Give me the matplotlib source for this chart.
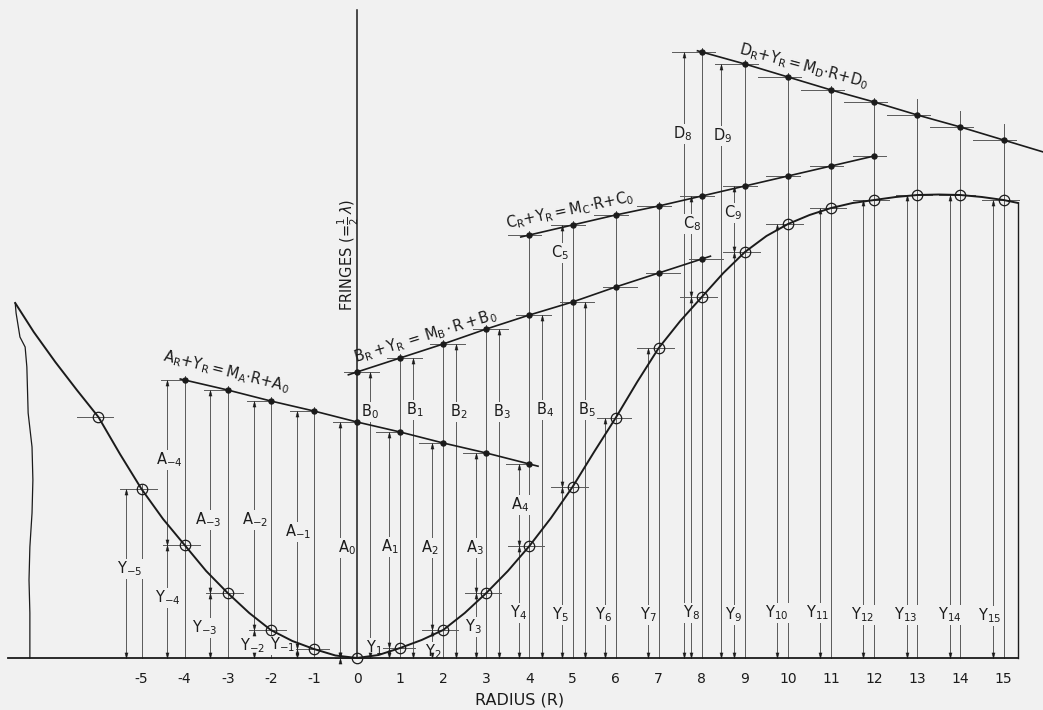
import numpy as np
import matplotlib
matplotlib.use("Agg")
import matplotlib.pyplot as plt
from matplotlib.markers import MarkerStyle
from matplotlib.path import Path

# ---------------- data ----------------
R_points = list(range(-6, 16))
Y_points = [24.1, 16.9, 11.3, 6.5, 2.8, 0.9, 0.0, 1.0, 2.8, 6.5, 11.2,
            17.1, 24.0, 31.0, 36.1, 40.6, 43.4, 45.0, 45.8, 46.3, 46.3, 45.8]

R_curve = [-7.93, -7.5, -7.0, -6.5, -6.0, -5.5, -5.0, -4.5, -4.0, -3.5, -3.0, -2.5,
           -2.0, -1.5, -1.0, -0.5, 0.0, 0.5, 1.0, 1.5, 2.0, 2.5, 3.0, 3.5,
           4.0, 4.5, 5.0, 5.5, 6.0, 6.5, 7.0, 7.5, 8.0, 8.5, 9.0, 9.5,
           10.0, 10.5, 11.0, 11.5, 12.0, 12.5, 13.0, 13.5, 14.0, 14.5, 15.0, 15.34]
Y_curve = [35.5, 32.6, 29.6, 26.8, 24.1, 20.4, 16.9, 13.9, 11.3, 8.7, 6.5, 4.5,
           2.8, 1.7, 0.9, 0.25, 0.0, 0.3, 1.0, 1.8, 2.8, 4.5, 6.5, 8.7,
           11.2, 14.0, 17.1, 20.6, 24.0, 27.6, 31.0, 33.7, 36.1, 38.5, 40.6, 42.2,
           43.4, 44.3, 45.0, 45.5, 45.8, 46.1, 46.3, 46.35, 46.3, 46.1, 45.8, 45.5]

A_R = [-4, -3, -2, -1, 0, 1, 2, 3, 4]
A_vals = [27.8, 26.8, 25.7, 24.7, 23.6, 22.6, 21.5, 20.5, 19.4]
B_R = [0, 1, 2, 3, 4, 5, 6, 7, 8]
B_vals = [28.6, 30.0, 31.4, 32.9, 34.3, 35.6, 37.1, 38.5, 39.9]
C_R = [4, 5, 6, 7, 8, 9, 10, 11, 12]
C_vals = [42.3, 43.3, 44.3, 45.2, 46.2, 47.2, 48.2, 49.2, 50.2]
D_R = [8, 9, 10, 11, 12, 13, 14, 15]
D_vals = [60.6, 59.4, 58.1, 56.8, 55.6, 54.3, 53.1, 51.8]

border_R = [-7.93, -7.91, -7.82, -7.70, -7.66, -7.63, -7.54, -7.52, -7.54, -7.59, -7.61, -7.59, -7.59, -7.59]
border_Y = [35.5, 34.5, 32.1, 31.1, 29.1, 24.5, 21.1, 17.8, 14.5, 11.1, 7.8, 4.5, 1.8, 0.0]

tick_R = list(range(-5, 16))
tick_labels = [str(r) for r in tick_R]

# ---------------- layout helpers ----------------
W, H = 1043, 710
PX_PER_R, R0_PX, BASE_PX, PX_PER_Y = 43.1, 357.0, 658.0, 10.0


def P(px, py):
    return (px - R0_PX) / PX_PER_R, (BASE_PX - py) / PX_PER_Y


INK = "#1b1b1b"
THIN = "#5a5a5a"
BG = "#f1f1f1"

plt.rcParams["font.family"] = ["DejaVu Sans"]
plt.rcParams["mathtext.fontset"] = "dejavusans"

fig = plt.figure(figsize=(W / 100, H / 100), dpi=100, facecolor=BG)
ax = fig.add_axes([0, 0, 1, 1])
ax.set_facecolor(BG)
x0, _ = P(0, 0)
x1, _ = P(W, 0)
_, y0 = P(0, H)
_, y1 = P(0, 0)
ax.set_xlim(x0, x1)
ax.set_ylim(y0, y1)
ax.axis("off")

curve = dict(zip(R_points, Y_points))
Aser = dict(zip(A_R, A_vals))
Bser = dict(zip(B_R, B_vals))
Cser = dict(zip(C_R, C_vals))
Dser = dict(zip(D_R, D_vals))

up_m = MarkerStyle(Path([(0, 0), (-0.28, -1), (0.28, -1), (0, 0)], closed=True))
dn_m = MarkerStyle(Path([(0, 0), (-0.28, 1), (0.28, 1), (0, 0)], closed=True))


def arrow(x, y, up):
    ax.plot([x], [y], marker=up_m if up else dn_m, ms=8, color=INK,
            mec=INK, mew=0.3, zorder=4)


def dim(x, top, crossings=()):
    ax.plot([x, x], [0, top], color=THIN, lw=0.7, zorder=1)
    arrow(x, top, True)
    arrow(x, 0, False)
    for c in crossings:
        arrow(x, c, True)
        arrow(x, c, False)


# point verticals
for r in tick_R:
    if r == 0:
        continue
    vals = [curve[r]] + [s[r] for s in (Aser, Bser, Cser, Dser) if r in s]
    top = max(vals) + (0.4 if r <= 12 else 1.6)
    ax.plot([r, r], [0, top], color=THIN, lw=0.7, zorder=1)

# dimension lines
dim(-5 - 0.35, curve[-5])
for r in A_R:
    off = -0.4 if r <= 0 else -0.25
    dim(r + off, Aser[r], [curve[r]])
for r in B_R[:6]:
    dim(r + 0.3, Bser[r])
for r in (5, 8, 9):
    dim(r - 0.25, Cser[r], [curve[r]])
for r in (6, 7):
    dim(r - 0.25, curve[r])
dim(8 - 0.42, Dser[8])
dim(9 - 0.55, Dser[9])
for r in range(10, 16):
    dim(r - 0.25, curve[r])

# axes lines
ax.plot([0, 0], [0, P(0, 10)[1]], color=INK, lw=1.1, zorder=5)
ax.plot([P(8, 0)[0], R_curve[-1]], [0, 0], color=INK, lw=1.3, zorder=5)
ax.plot([R_curve[-1], R_curve[-1]], [0, Y_curve[-1]], color=INK, lw=1.0, zorder=5)
ax.plot(border_R, border_Y, color=INK, lw=0.9, zorder=5)

# main curve
ax.plot(R_curve, Y_curve, color=INK, lw=1.4, zorder=5)


def extended(rs, vs, lo, hi):
    rs = list(rs)
    vs = list(vs)
    s0 = (vs[1] - vs[0]) / (rs[1] - rs[0])
    s1 = (vs[-1] - vs[-2]) / (rs[-1] - rs[-2])
    return ([rs[0] - lo] + rs + [rs[-1] + hi],
            [vs[0] - s0 * lo] + vs + [vs[-1] + s1 * hi])


for (rs, vs, lo, hi, t0, t1) in [
    (A_R, A_vals, 0.1, 0.2, -0.55, 0.05),
    (B_R, B_vals, 0.2, 0.2, -0.3, 0.5),
    (C_R, C_vals, 0.2, 0.0, -0.5, 0.28),
    (D_R, D_vals, 0.1, 1.0, -0.7, 0.3),
]:
    xs, ys = extended(rs, vs, lo, hi)
    ax.plot(xs, ys, color=INK, lw=1.2, zorder=5)
    for r, v in zip(rs, vs):
        ax.plot([r + t0, r + t1], [v, v], color=THIN, lw=0.7, zorder=2)
    ax.plot(rs, vs, "o", ms=3.6, color=INK, zorder=6)

# curve points: open circles with horizontal ticks
for r, v in zip(R_points, Y_points):
    ax.plot([r - 0.5, r + 0.35], [v, v], color=THIN, lw=0.7, zorder=2)
ax.plot(R_points, Y_points, "o", ms=7.5, mfc="none", mec=INK, mew=0.9, zorder=6)

# tick labels
for r, lab in zip(tick_R, tick_labels):
    ax.text(r, P(0, 679)[1], lab, ha="center", va="center", fontsize=10, color=INK)
ax.text(*P(520, 700), "RADIUS (R)", ha="center", va="center", fontsize=11.5, color=INK)

ax.text(*P(348, 255), r"FRINGES (=$\mathregular{\frac{1}{2}}\,\lambda$)", rotation=90,
        ha="center", va="center", fontsize=10.5, color=INK)

# equation labels
eqs = [
    (r"$\mathregular{A_R{+}Y_R{=}M_A{\cdot}R{+}A_0}$", 226, 372, -14),
    (r"$\mathregular{B_R\,{+}\,Y_R\,{=}\,M_B\,{\cdot}\,R\,{+}\,B_0}$", 425, 336, 17),
    (r"$\mathregular{C_R{+}Y_R{=}M_C{\cdot}R{+}C_0}$", 570, 210, 12),
    (r"$\mathregular{D_R{+}Y_R{=}M_D{\cdot}R{+}D_0}$", 804, 66, -15),
]
for s, px, py, rot in eqs:
    ax.text(*P(px, py), s, rotation=rot, rotation_mode="anchor", ha="center", va="center",
            fontsize=10.5, color=INK)

labels = [
    ("A", "-4", 169, 460), ("A", "-3", 208, 520), ("A", "-2", 255, 520), ("A", "-1", 298, 532),
    ("A", "0", 347, 548), ("A", "1", 390, 547), ("A", "2", 430, 548), ("A", "3", 475, 548),
    ("A", "4", 520, 505),
    ("B", "0", 370, 412), ("B", "1", 415, 410), ("B", "2", 459, 412), ("B", "3", 502, 412),
    ("B", "4", 545, 410), ("B", "5", 587, 410),
    ("C", "5", 560, 253), ("C", "8", 692, 224), ("C", "9", 733, 213),
    ("D", "8", 683, 134), ("D", "9", 723, 136),
    ("Y", "-5", 130, 569), ("Y", "-4", 168, 598), ("Y", "-3", 205, 628), ("Y", "-2", 253, 646),
    ("Y", "-1", 283, 645), ("Y", "1", 374, 648), ("Y", "2", 433, 652), ("Y", "3", 473, 627),
    ("Y", "4", 519, 613), ("Y", "5", 560, 615), ("Y", "6", 603, 615), ("Y", "7", 648, 615),
    ("Y", "8", 691, 613), ("Y", "9", 733, 615), ("Y", "10", 777, 613), ("Y", "11", 818, 613),
    ("Y", "12", 863, 615), ("Y", "13", 906, 615), ("Y", "14", 950, 615), ("Y", "15", 990, 616),
]
for letter, sub, px, py in labels:
    ax.text(*P(px, py), r"$\mathregular{%s_{%s}}$" % (letter, sub), ha="center", va="center",
            fontsize=10.5, color=INK, zorder=3,
            bbox=dict(boxstyle="square,pad=0.05", fc=BG, ec="none"))

fig.savefig("out.png", dpi=100, facecolor=BG)
